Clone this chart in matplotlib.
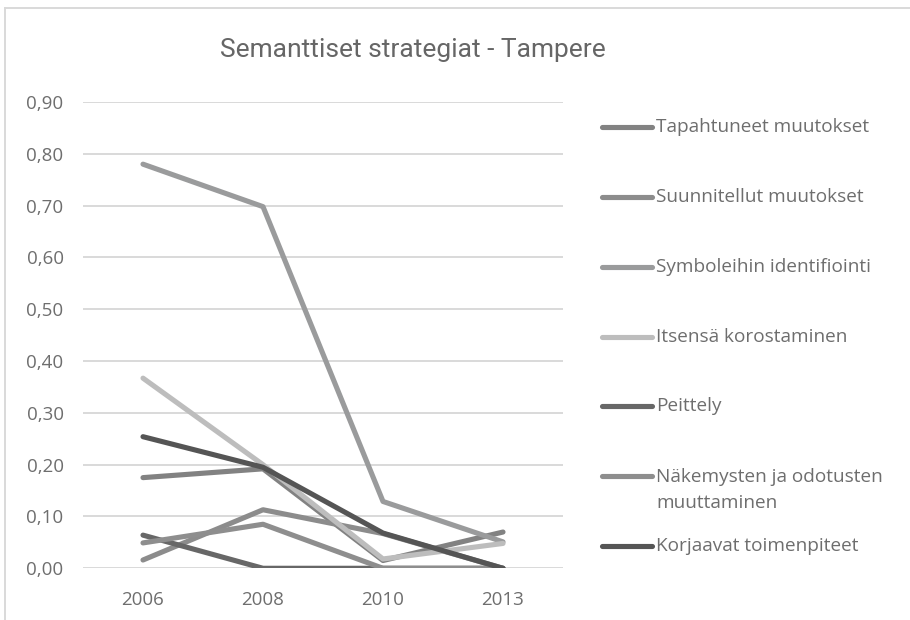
import matplotlib.pyplot as plt
from matplotlib.lines import Line2D
from matplotlib.ticker import FuncFormatter

plt.rcParams['font.family'] = ['Open Sans', 'DejaVu Sans']

years = ['2006', '2008', '2010', '2013']
tapahtuneet = [0.175, 0.192, 0.015, 0.070]
suunnitellut = [0.016, 0.113, 0.067, 0.0]
symboleihin = [0.780, 0.698, 0.129, 0.051]
itsensa = [0.367, 0.200, 0.018, 0.048]
peittely = [0.064, 0.0, 0.0, 0.0]
nakemysten = [0.049, 0.085, 0.0, 0.0]
korjaavat = [0.254, 0.195, 0.068, 0.0]

series = [
    ('Tapahtuneet muutokset', tapahtuneet, '#828282'),
    ('Suunnitellut muutokset', suunnitellut, '#8c8c8c'),
    ('Symboleihin identifiointi', symboleihin, '#9a9b9c'),
    ('Itsensä korostaminen', itsensa, '#bdbdbd'),
    ('Peittely', peittely, '#676767'),
    ('Näkemysten ja odotusten\nmuuttaminen', nakemysten, '#8e8e8e'),
    ('Korjaavat toimenpiteet', korjaavat, '#555555'),
]

W, H = 910, 620
fig = plt.figure(figsize=(W / 100, H / 100), dpi=100)
ax = fig.add_axes([83 / W, 1 - 568.3 / H, (563 - 83) / W, (568.3 - 102) / H])

x = range(len(years))
for name, vals, col in series:
    ax.plot(x, vals, color=col, lw=3.7, solid_capstyle='round',
            solid_joinstyle='round')

ax.set_xlim(-0.5, len(years) - 0.5)
ax.set_ylim(0, 0.9)
ax.set_yticks([i / 10 for i in range(10)])
ax.yaxis.set_major_formatter(FuncFormatter(lambda v, p: f'{v:.2f}'.replace('.', ',')))
ax.set_xticks(list(x))
ax.set_xticklabels(years)
ax.grid(axis='y', color='#d9d9d9', lw=1.4)
ax.set_axisbelow(True)
for s in ax.spines.values():
    s.set_visible(False)
ax.tick_params(axis='both', length=0, labelsize=13.5, colors='#6e6e6e')
ax.tick_params(axis='y', pad=14)
ax.tick_params(axis='x', pad=16)

# title
fig.text(413 / W, 1 - 50 / H, 'Semanttiset strategiat - Tampere', ha='center',
         va='center', fontsize=19, color='#666666',
         family=['Roboto', 'Open Sans'])

# legend, placed like the original
leg_y = [127, 197, 267, 337, 406, 490, 546]
for (name, vals, col), yy in zip(series, leg_y):
    fy = 1 - yy / H
    if '\n' in name:
        ly = 1 - 476 / H
    else:
        ly = fy
    fig.add_artist(Line2D([602 / W, 652 / W], [ly, ly], color=col, lw=3.7,
                          solid_capstyle='round', transform=fig.transFigure))
    fig.text(656 / W, fy, name, ha='left', va='center', fontsize=13.7,
             color='#6e6e6e', linespacing=1.55)

# chart border (top and left only visible)
fig.add_artist(Line2D([5 / W, 5 / W], [0, 1 - 8 / H], color='#d9d9d9', lw=1.4,
                      transform=fig.transFigure))
fig.add_artist(Line2D([5 / W, 1], [1 - 8 / H, 1 - 8 / H], color='#d9d9d9', lw=1.4,
                      transform=fig.transFigure))

fig.savefig('out.png', dpi=100)
